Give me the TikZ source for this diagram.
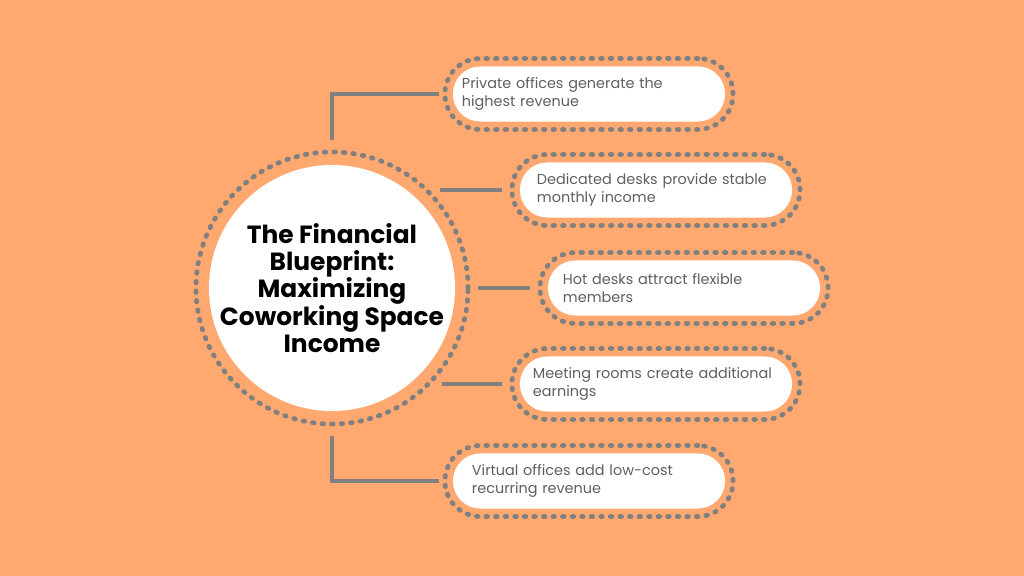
\documentclass[tikz,border=0pt]{standalone}
\usepackage{fontspec}
\setmainfont{Poppins}

\definecolor{peach}{RGB}{255,168,112}
\definecolor{dotgray}{RGB}{128,128,128}
\definecolor{textgray}{RGB}{95,95,95}

\tikzset{
    dotring/.style={draw=dotgray, line width=3.4pt, line cap=round, dash pattern=on 1.1pt off 5.7pt},
    pill/.style={rectangle, rounded corners=0.68cm, fill=white, minimum width=6.8cm, minimum height=1.375cm,
        align=left, text=textgray, font=\fontsize{10.25}{12.3}\selectfont},
    pillring/.style={dotring, rectangle, rounded corners=0.88cm, minimum width=7.2cm, minimum height=1.775cm},
    link/.style={draw=dotgray, line width=2.9pt},
}

\begin{document}
\begin{tikzpicture}[x=0.025cm, y=-0.025cm]
    \useasboundingbox (0,0) rectangle (1024,576);
    \fill[peach] (0,0) rectangle (1024,576);

    % Central hub
    \node[circle, fill=white, minimum size=6.15cm] (disk) at (332,288) {};
    \node[circle, dotring, minimum size=6.8cm, inner sep=0pt, align=center,
        font=\fontsize{17.7}{19.3}\selectfont\bfseries] (hub) at (disk) {The Financial\\Blueprint:\\Maximizing\\Coworking Space\\Income};

    % Revenue streams
    \node[pillring] (ring1) at (589,94) {};
    \node[pill, inner xsep=0.225cm, text width=6.35cm] (pill1) at (ring1) {Private offices generate the\\highest revenue};

    \node[pillring] (ring2) at (656,190) {};
    \node[pill, inner xsep=0.425cm, text width=5.95cm] (pill2) at (ring2) {Dedicated desks provide stable\\monthly income};

    \node[pillring] (ring3) at (684,288) {};
    \node[pill, inner xsep=0.375cm, text width=6.05cm] (pill3) at (ring3) {Hot desks attract flexible\\members};

    \node[pillring] (ring4) at (656,384) {};
    \node[pill, inner xsep=0.325cm, text width=6.15cm] (pill4) at (ring4) {Meeting rooms create additional\\earnings};

    \node[pillring] (ring5) at (589,481) {};
    \node[pill, inner xsep=0.475cm, text width=5.85cm] (pill5) at (ring5) {Virtual offices add low-cost\\recurring revenue};

    % Connectors
    \draw[link, shorten <=0.25cm, shorten >=0.08cm] (hub.north) |- (ring1.west);
    \draw[link, shorten <=0.25cm, shorten >=0.2cm] (hub.45.1) -- (hub.45.1 -| ring2.west);
    \draw[link, shorten <=0.18cm, shorten >=0.19cm] (hub.east) -- (ring3.west);
    \draw[link, shorten <=0.25cm, shorten >=0.2cm] (hub.-44) -- (hub.-44 -| ring4.west);
    \draw[link, shorten <=0.25cm, shorten >=0.08cm] (hub.south) |- (ring5.west);

\end{tikzpicture}
\end{document}
